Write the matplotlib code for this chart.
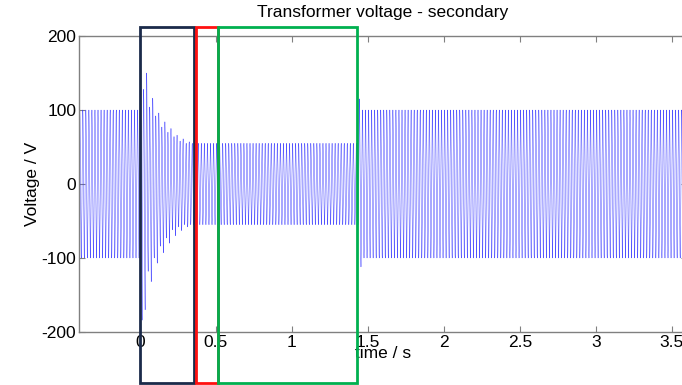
import numpy as np
import matplotlib.pyplot as plt
from matplotlib.patches import Rectangle

plt.rcParams['font.family'] = ['Liberation Sans', 'DejaVu Sans']
plt.rcParams['axes.unicode_minus'] = False

# supply frequency and sampling rate of the simulation
f_line = 50.0
fs = 2000.0

# steady-state peak voltage in each interval (s, s, V)
steady_t0 = [-0.4, 0.36, 1.46]
steady_t1 = [0.0, 1.44, 3.6]
steady_pk = [100, 55, 100]

# cycle-by-cycle peaks of the switching transients (V)
trans_t0 = [0.0, 1.44]
trans_pos = [
    [184, 128, 150, 104, 116, 92, 96, 77, 84, 70, 75, 64, 66, 58, 61, 55, 57, 55],
    [115],
]
trans_neg = [
    [-184, -170, -118, -132, -100, -107, -84, -93, -73, -80, -62, -70, -58, -63, -55, -58, -55, -55],
    [-112],
]

# highlighted time windows (s)
box_x0 = [0.0, 0.37, 0.515]
box_x1 = [0.355, 0.515, 1.43]
box_color = ['#1b2a4a', '#ff1010', '#00b04f']
box_y0, box_y1 = -269, 212

xticks = [0, 0.5, 1, 1.5, 2, 2.5, 3, 3.5]
yticks = [-200, -100, 0, 100, 200]

# build the waveform
t = np.arange(-0.4, 3.6, 1 / fs)
s = np.sin(2 * np.pi * f_line * t)
v = np.zeros_like(t)
for a, b, pk in zip(steady_t0, steady_t1, steady_pk):
    m = (t >= a) & (t < b)
    v[m] = pk * s[m]
for t0, pos, neg in zip(trans_t0, trans_pos, trans_neg):
    for k in range(len(pos)):
        m = (t >= t0 + k / f_line) & (t < t0 + (k + 1) / f_line)
        v[m] = np.where(s[m] >= 0, pos[k] * s[m], -neg[k] * s[m])

fig = plt.figure(figsize=(6.82, 3.85), dpi=100)
ax = fig.add_axes([79 / 682, 53 / 385, 608 / 682, 296 / 385])

ax.plot(t, v, color='#2f2fff', lw=0.35, alpha=0.85, zorder=2)

ax.set_xlim(-0.4, 3.6)
ax.set_ylim(-200, 200)
ax.set_xticks(xticks)
ax.set_xticklabels([f'{x:g}' for x in xticks])
ax.set_yticks(yticks)
ax.tick_params(direction='in', top=True, right=True, length=4, width=0.8,
               color='#808080', labelsize=12.5, pad=2)
for sp in ax.spines.values():
    sp.set_color('#808080')
    sp.set_linewidth(1.0)

ax.set_title('Transformer voltage - secondary', fontsize=12.5, pad=14)
ax.set_xlabel('time / s', fontsize=12.5, labelpad=-3)
ax.set_ylabel('Voltage / V', fontsize=12.5, labelpad=1)

for x0, x1, c in zip(box_x0, box_x1, box_color):
    ax.add_patch(Rectangle((x0, box_y0), x1 - x0, box_y1 - box_y0, fill=False,
                           edgecolor=c, lw=2.0, clip_on=False, zorder=5))

fig.savefig('out.png', dpi=100)
